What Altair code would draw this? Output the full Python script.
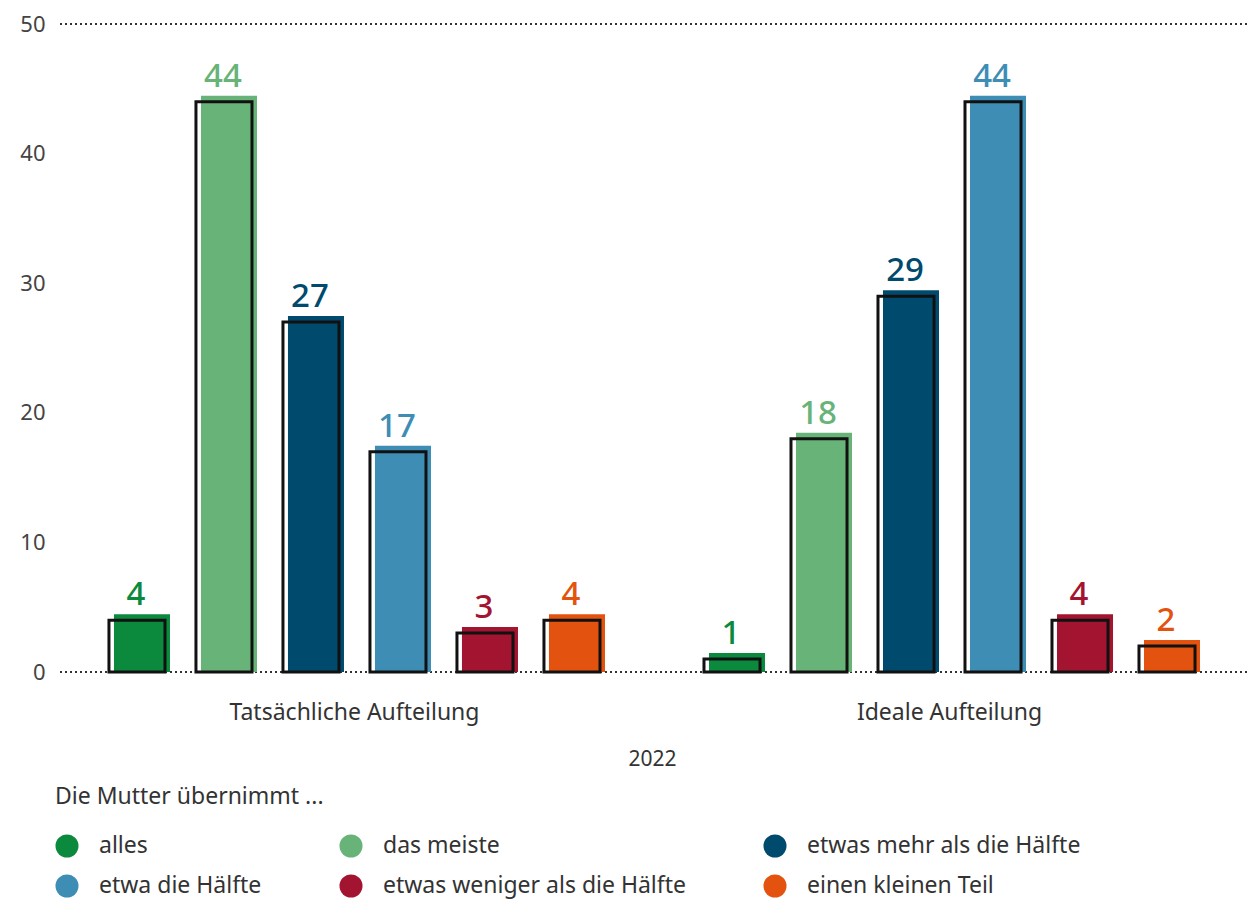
import altair as alt
import pandas as pd

groups = ["Tatsächliche Aufteilung", "Ideale Aufteilung"]
categories = [
    "alles",
    "das meiste",
    "etwas mehr als die Hälfte",
    "etwa die Hälfte",
    "etwas weniger als die Hälfte",
    "einen kleinen Teil",
]
tatsaechlich = [4, 44, 27, 17, 3, 4]
ideal = [1, 18, 29, 44, 4, 2]
colors = ["#0b8a3e", "#68b378", "#004a6e", "#3d8db5", "#a31430", "#e3520e"]
y_ticks = [0, 10, 20, 30, 40, 50]
ref_lines = [0, 50]

rows = []
for g, vals in zip(groups, [tatsaechlich, ideal]):
    for c, v in zip(categories, vals):
        rows.append({"gruppe": g, "kategorie": c, "wert": v})
df = pd.DataFrame(rows)
df_lines = pd.DataFrame({"linie": ref_lines})

FONT = "Noto Sans"

x_enc = alt.X(
    "gruppe:N",
    sort=groups,
    scale=alt.Scale(paddingInner=0.1227, paddingOuter=0.0613),
    axis=alt.Axis(
        title="2022",
        labelAngle=0,
        domain=False,
        ticks=False,
        labelPadding=29,
        labelFontSize=23,
        labelLimit=500,
        labelColor="#333333",
        titleFontSize=21,
        titleFontWeight="normal",
        titleColor="#333333",
        titlePadding=24,
    ),
)
y_scale = alt.Scale(domain=[0, 50], nice=False)
y_axis = alt.Axis(
    title=None,
    values=y_ticks,
    domain=False,
    ticks=False,
    grid=False,
    labelPadding=12,
    labelFontSize=22,
    labelColor="#444444",
)

legend = alt.Legend(
    title="Die Mutter übernimmt ...",
    orient="none",
    direction="horizontal",
    legendX=-2,
    legendY=762,
    columns=3,
    gridAlign="each",
    columnPadding=77,
    rowPadding=16,
    symbolType="circle",
    symbolSize=530,
    symbolStrokeWidth=0,
    symbolOpacity=1,
    labelFontSize=23,
    labelColor="#333333",
    labelOffset=20,
    labelLimit=500,
    titleFontSize=23,
    titleFontWeight="normal",
    titleColor="#333333",
    titleLimit=600,
    titlePadding=25,
)
color_enc = alt.Color(
    "kategorie:N",
    sort=categories,
    scale=alt.Scale(domain=categories, range=colors),
    legend=legend,
)

lines = alt.Chart(df_lines).mark_rule(
    color="#333333", strokeWidth=2, strokeDash=[2, 3]
).encode(y=alt.Y("linie:Q", scale=y_scale, axis=y_axis))

colored = alt.Chart(df).mark_bar(yOffset=-6, y2Offset=-6).encode(
    x=x_enc,
    xOffset=alt.XOffset(
        "kategorie:N",
        sort=categories,
        scale=alt.Scale(range=[5, 527], paddingInner=0.356, paddingOuter=0.178),
    ),
    y=alt.Y("wert:Q", scale=y_scale, axis=y_axis, stack=None),
    color=color_enc,
)

outline = alt.Chart(df).mark_bar(
    fillOpacity=0, stroke="#111111", strokeWidth=3
).encode(
    x=x_enc,
    xOffset=alt.XOffset(
        "kategorie:N",
        sort=categories,
        scale=alt.Scale(range=[0, 522], paddingInner=0.356, paddingOuter=0.178),
    ),
    y=alt.Y("wert:Q", scale=y_scale, axis=y_axis, stack=None),
)

labels = alt.Chart(df).mark_text(
    dx=-1, dy=-15, baseline="alphabetic", fontSize=33, fontWeight=500
).encode(
    x=x_enc,
    xOffset=alt.XOffset(
        "kategorie:N",
        sort=categories,
        scale=alt.Scale(type="point", range=[0, 522], padding=0.5),
    ),
    y=alt.Y("wert:Q", scale=y_scale, axis=y_axis, stack=None),
    text=alt.Text("wert:Q"),
    color=color_enc,
)

chart = (
    alt.layer(lines, colored, outline, labels)
    .resolve_scale(xOffset="independent")
    .properties(
        width=1190,
        height=648,
        padding={"left": 49, "top": 16, "right": 0, "bottom": 228},
        autosize=alt.AutoSizeParams(type="none"),
    )
    .configure(font=FONT)
    .configure_view(stroke=None)
)

chart.save("out.html", embed_options={"renderer": "svg", "actions": False})
